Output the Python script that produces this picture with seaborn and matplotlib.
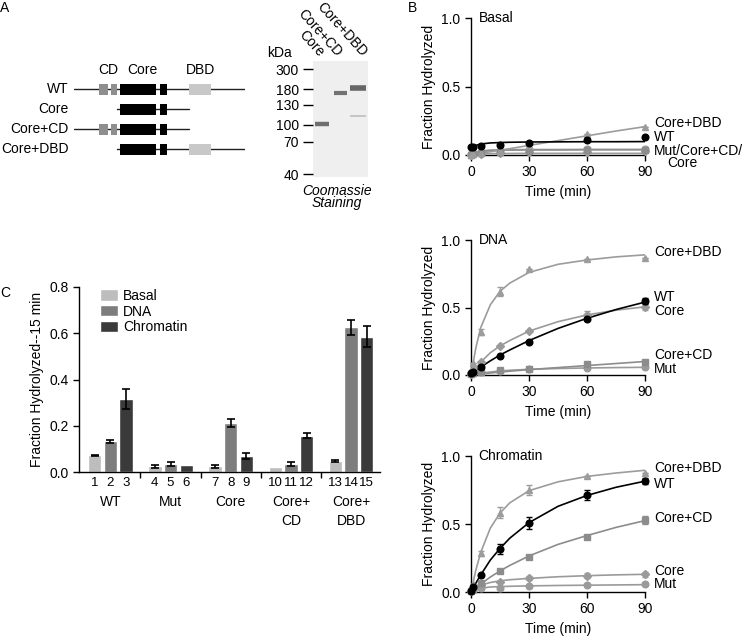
# Figure: domain map + gel (A), hydrolysis time courses (B), 15 min bars (C)
import numpy as np
import pandas as pd
import matplotlib
matplotlib.use("Agg")
import matplotlib.pyplot as plt
from matplotlib.patches import Rectangle
import seaborn as sns

# ---- panel A data: constructs (schematic units) ----
constructs = ["WT", "Core", "Core+CD", "Core+DBD"]
construct_span = [(0, 1000), (250, 671), (0, 671), (250, 1000)]
has_cd = [True, False, True, False]
has_dbd = [True, False, False, True]
cd_boxes = [(149, 196), (215, 250)]
core_boxes = [(269, 480), (505, 542)]
dbd_box = (671, 800)

# gel: marker sizes and migration (arbitrary units from top of gel)
marker_kda = ["300", "180", "130", "100", "70", "40"]
marker_mig = [8.3, 28.3, 44, 64, 80.7, 113]
lanes = ["Core", "Core+CD", "Core+DBD"]
band_lane = [0.5, 1.5, 2.45, 2.45]
band_mig = [63.3, 31.7, 27.3, 55]
band_strength = ["#6e6e6e", "#727272", "#666666", "#bdbdbd"]
band_width = [3.2, 3.0, 4.0, 1.2]

# ---- panel B data ----
T = [0, 1, 5, 15, 30, 60, 90]
TF = [0, 2.5, 5, 10, 15, 20, 30, 45, 60, 75, 90]
series = ["Mut", "Core", "Core+CD", "Core+DBD", "WT"]
markers = {"WT": "o", "Mut": "o", "Core": "D", "Core+CD": "s", "Core+DBD": "^"}
colors = {"WT": "black", "Mut": "#9a9a9a", "Core": "#9a9a9a",
          "Core+CD": "#8c8c8c", "Core+DBD": "#9c9c9c"}

basal_pts = {"WT": [0.06, 0.062, 0.066, 0.072, 0.085, 0.11, 0.134],
             "Core+DBD": [0.0, 0.005, 0.015, 0.03, 0.075, 0.15, 0.207],
             "Mut": [0.005, 0.01, 0.02, 0.027, 0.033, 0.042, 0.045],
             "Core+CD": [0.003, 0.008, 0.015, 0.02, 0.028, 0.035, 0.04],
             "Core": [0.002, 0.005, 0.01, 0.015, 0.02, 0.025, 0.03]}
basal_fit = {"WT": [0.05, 0.07, 0.08, 0.088, 0.091, 0.093, 0.095, 0.096, 0.097, 0.097, 0.098],
             "Core+DBD": [0, 0.006, 0.012, 0.024, 0.035, 0.046, 0.07, 0.105, 0.14, 0.175, 0.207],
             "Mut": [0, 0.02, 0.03, 0.036, 0.038, 0.039, 0.04, 0.04, 0.041, 0.041, 0.041],
             "Core+CD": [0, 0.015, 0.025, 0.032, 0.035, 0.036, 0.037, 0.037, 0.038, 0.038, 0.038],
             "Core": [0, 0.006, 0.008, 0.01, 0.011, 0.011, 0.012, 0.012, 0.012, 0.012, 0.012]}
basal_err = {}

dna_pts = {"Core+DBD": [0.02, 0.087, 0.32, 0.617, 0.785, 0.857, 0.864],
           "WT": [0.012, 0.025, 0.062, 0.14, 0.247, 0.415, 0.548],
           "Core": [0.01, 0.04, 0.1, 0.217, 0.328, 0.444, 0.506],
           "Core+CD": [0.01, 0.015, 0.025, 0.035, 0.047, 0.08, 0.1],
           "Mut": [0.01, 0.015, 0.02, 0.032, 0.045, 0.05, 0.058]}
dna_fit = {"Core+DBD": [0, 0.2, 0.35, 0.52, 0.62, 0.68, 0.76, 0.82, 0.852, 0.875, 0.89],
           "WT": [0, 0.03, 0.058, 0.105, 0.148, 0.185, 0.255, 0.345, 0.42, 0.485, 0.54],
           "Core": [0, 0.05, 0.095, 0.165, 0.215, 0.255, 0.325, 0.395, 0.445, 0.48, 0.505],
           "Core+CD": [0, 0.004, 0.008, 0.015, 0.022, 0.028, 0.04, 0.055, 0.07, 0.085, 0.1],
           "Mut": [0, 0.007, 0.013, 0.022, 0.03, 0.035, 0.042, 0.048, 0.052, 0.055, 0.057]}
dna_err = {"Core+DBD": [0, 0, 0.02, 0.035, 0, 0, 0],
           "WT": [0, 0, 0, 0, 0, 0, 0.02],
           "Core": [0, 0, 0, 0, 0, 0.03, 0.025]}

chrom_pts = {"Core+DBD": [0.02, 0.06, 0.285, 0.583, 0.75, 0.853, 0.873],
             "WT": [0.01, 0.04, 0.125, 0.316, 0.51, 0.713, 0.816],
             "Core+CD": [0.01, 0.02, 0.064, 0.155, 0.26, 0.407, 0.53],
             "Core": [0.01, 0.02, 0.05, 0.072, 0.103, 0.12, 0.13],
             "Mut": [0.01, 0.015, 0.03, 0.032, 0.044, 0.05, 0.057]}
chrom_fit = {"Core+DBD": [0, 0.16, 0.29, 0.47, 0.58, 0.655, 0.745, 0.81, 0.85, 0.875, 0.895],
             "WT": [0, 0.065, 0.125, 0.235, 0.32, 0.395, 0.51, 0.63, 0.71, 0.77, 0.815],
             "Core+CD": [0, 0.03, 0.058, 0.11, 0.155, 0.195, 0.265, 0.35, 0.415, 0.475, 0.525],
             "Core": [0, 0.03, 0.05, 0.07, 0.082, 0.09, 0.1, 0.112, 0.12, 0.126, 0.13],
             "Mut": [0, 0.018, 0.028, 0.037, 0.04, 0.042, 0.045, 0.048, 0.05, 0.052, 0.054]}
chrom_err = {"Core+DBD": [0, 0, 0.02, 0.04, 0.035, 0, 0],
             "WT": [0, 0, 0, 0.04, 0.045, 0.035, 0.02],
             "Core+CD": [0, 0, 0, 0, 0, 0, 0.03],
             "Core": [0, 0, 0, 0, 0.015, 0.02, 0.02]}

# ---- panel C data ----
groups = ["WT", "Mut", "Core", "Core+\nCD", "Core+\nDBD"]
conditions = ["Basal", "DNA", "Chromatin"]
basal_15 = [0.072, 0.025, 0.025, 0.022, 0.048]
basal_15_err = [0.003, 0.006, 0.006, 0.0, 0.006]
dna_15 = [0.132, 0.035, 0.212, 0.035, 0.625]
dna_15_err = [0.006, 0.007, 0.016, 0.007, 0.032]
chrom_15 = [0.315, 0.032, 0.07, 0.157, 0.585]
chrom_15_err = [0.043, 0.0, 0.012, 0.012, 0.045]
bar_colors = ["#bdbdbd", "#7d7d7d", "#3a3a3a"]

sns.set_style("ticks", rc={"axes.edgecolor": "black", "xtick.color": "black",
                           "ytick.color": "black", "text.color": "black",
                           "axes.labelcolor": "black"})
plt.rcParams["font.family"] = ["Liberation Sans", "DejaVu Sans"]
plt.rcParams["font.size"] = 10
plt.rcParams["xtick.labelsize"] = 10
plt.rcParams["ytick.labelsize"] = 10
plt.rcParams["axes.linewidth"] = 1.0

W, H = 745, 636
fig = plt.figure(figsize=(W / 100, H / 100), dpi=100)


def px_box(l, t, r, b):
    return [l / W, 1 - b / H, (r - l) / W, (b - t) / H]


# panel letters
for letter, (x, y) in zip("ABC", [(5, 8), (412, 8), (5, 293)]):
    fig.text(x / W, 1 - y / H, letter, fontsize=10, va="center", ha="center")

# ---------------- A: schematic ----------------
axa = fig.add_axes(px_box(74, 79.3, 245, 159.3))
axa.set_xlim(0, 1000)
axa.set_ylim(3.5, -0.5)
axa.axis("off")
for i, name in enumerate(constructs):
    s, e = construct_span[i]
    axa.plot([s, e], [i, i], color="#222222", lw=1.0, zorder=1)
    boxes = []
    if has_cd[i]:
        boxes += [(b, "#8e8e8e") for b in cd_boxes]
    boxes += [(b, "black") for b in core_boxes]
    if has_dbd[i]:
        boxes.append((dbd_box, "#c8c8c8"))
    for (b0, b1), c in boxes:
        axa.add_patch(Rectangle((b0, i - 0.27), b1 - b0, 0.54, color=c, lw=0, zorder=2))
    axa.text(-33, i, name, ha="right", va="center", fontsize=10)
for lab, xc in zip(["CD", "Core", "DBD"], [199, 402, 737]):
    axa.text(xc, -0.97, lab, ha="center", va="center", fontsize=10, clip_on=False)

# ---------------- A: gel ----------------
axg = fig.add_axes(px_box(313, 61, 368, 177))
axg.set_xlim(0, 3)
axg.set_ylim(116, 0)
axg.set_facecolor("#efefef")
for sp in axg.spines.values():
    sp.set_visible(False)
axg.set_xticks([])
axg.set_yticks(marker_mig)
axg.set_yticklabels(marker_kda)
axg.tick_params(axis="y", length=7, width=1, pad=3, direction="out")
for x, y, c, w in zip(band_lane, band_mig, band_strength, band_width):
    half = 0.45 if x > 2 else 0.38
    axg.hlines(y, x - half, x + half, color=c, lw=w)
axg.text(-1.84, -8.3, "kDa", ha="center", va="center", fontsize=10)
for lab, xa in zip(lanes, [0.3, 1.28, 2.65]):
    axg.text(xa, -4, lab, rotation=-48, rotation_mode="anchor", ha="right",
             va="baseline", fontsize=10, clip_on=False)
axg.text(1.31, 136, "Coomassie\nStaining", ha="center", va="center", fontsize=10,
         style="italic", linespacing=0.9, clip_on=False)


# ---------------- B: time courses ----------------
def kinetics(box, pts, fit, err, title, labels):
    ax = fig.add_axes(px_box(*box))
    for name in series:
        if name not in pts:
            continue
        c = colors[name]
        z = 4 if name == "WT" else 3
        sns.lineplot(x=TF, y=fit[name], color=c, lw=1.2, ax=ax, zorder=z)
        e = err.get(name, [0] * len(T))
        ax.errorbar(T, pts[name], yerr=e, fmt=markers[name], color=c, ecolor=c,
                    ms=4.8 if markers[name] != "D" else 3.8, capsize=2, elinewidth=1,
                    clip_on=False, zorder=z + 1)
    ax.set_xlim(0, 90)
    ax.set_ylim(0, 1.0)
    ax.set_xticks([0, 30, 60, 90])
    ax.set_yticks([0, 0.5, 1.0])
    ax.set_yticklabels(["0.0", "0.5", "1.0"])
    ax.set_xlabel("Time (min)", fontsize=10)
    ax.set_ylabel("Fraction Hydrolyzed", fontsize=10)
    ax.tick_params(length=4, width=1)
    sns.despine(ax=ax)
    ax.text(4, 1.0, title, ha="left", va="center", fontsize=10)
    for lab, xv, yv in labels:
        ax.text(xv, yv, lab, ha="left", va="center", fontsize=10, clip_on=False)
    return ax


kinetics((471, 18, 645, 155), basal_pts, basal_fit, basal_err, "Basal",
         [("Core+DBD", 94.7, 0.231), ("WT", 94.7, 0.134),
          ("Mut/Core+CD/", 94.7, 0.031), ("Core", 101.4, -0.061)])
kinetics((471, 240, 645, 375), dna_pts, dna_fit, dna_err, "DNA",
         [("Core+DBD", 94.7, 0.914), ("WT", 94.7, 0.58), ("Core", 94.7, 0.474),
          ("Core+CD", 94.7, 0.148), ("Mut", 94.7, 0.042)])
kinetics((471, 456, 645, 592), chrom_pts, chrom_fit, chrom_err, "Chromatin",
         [("Core+DBD", 94.7, 0.914), ("WT", 94.7, 0.792), ("Core+CD", 94.7, 0.542),
          ("Core", 94.7, 0.157), ("Mut", 94.7, 0.059)])

# ---------------- C: bars at 15 min ----------------
axc = fig.add_axes(px_box(79, 287, 380, 472))
df = pd.DataFrame({"group": groups * 3,
                   "condition": np.repeat(conditions, len(groups)),
                   "value": basal_15 + dna_15 + chrom_15})
sns.barplot(data=df, x="group", y="value", hue="condition", order=groups,
            hue_order=conditions, palette=dict(zip(conditions, bar_colors)),
            width=0.78, gap=0.15, errorbar=None, saturation=1, ax=axc)
errs = [basal_15_err, dna_15_err, chrom_15_err]
xt = axc.get_xaxis_transform()
bar_sets = list(axc.containers)
for ci, cont in enumerate(bar_sets):
    for gi, bar in enumerate(cont.patches):
        cx = bar.get_x() + bar.get_width() / 2
        h = bar.get_height()
        if errs[ci][gi] > 0:
            axc.errorbar(cx, h, yerr=errs[ci][gi], fmt="none", ecolor="black",
                         elinewidth=1.2, capsize=3, capthick=1.2, zorder=5)
        axc.text(cx, -0.0595, str(gi * 3 + ci + 1), transform=xt,
                 ha="center", va="center", fontsize=9.5)
axc.set_xlim(-0.52, 4.48)
axc.set_ylim(0, 0.8)
axc.set_yticks([0, 0.2, 0.4, 0.6, 0.8])
axc.set_yticklabels(["0.0", "0.2", "0.4", "0.6", "0.8"])
axc.set_xticks(range(len(groups)))
axc.set_xticklabels([""] * len(groups))
axc.tick_params(axis="x", which="major", length=0)
# group names, one text per line so each line sits on its own baseline
for gi, g in enumerate(groups):
    for li, part in enumerate(g.split("\n")):
        axc.text(gi, -0.184 - 0.102 * li, part, transform=xt, ha="center",
                 va="baseline", fontsize=10)
axc.set_xticks([0.5, 1.5, 2.5, 3.5], minor=True)
axc.tick_params(axis="x", which="minor", length=4, width=1)
axc.tick_params(axis="y", length=4, width=1)
axc.set_xlabel("")
axc.set_ylabel("Fraction Hydrolyzed--15 min", fontsize=10)
sns.despine(ax=axc)
handles, labels = axc.get_legend_handles_labels()
axc.legend(handles, labels, loc="upper left", bbox_to_anchor=(0.07, 0.99),
           frameon=False, handlelength=1.3, handleheight=0.9, handletextpad=0.35,
           labelspacing=0.12, borderaxespad=0, borderpad=0, fontsize=10)

fig.savefig("out.png", dpi=100)
